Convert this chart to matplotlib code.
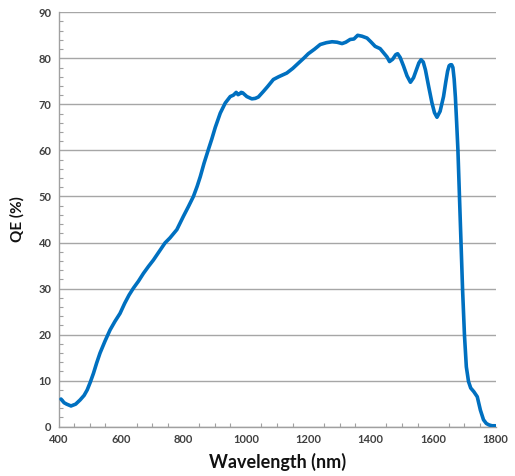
import matplotlib
matplotlib.use("Agg")
import matplotlib.pyplot as plt
from matplotlib.ticker import MultipleLocator
import numpy as np

wavelength = [408, 418, 426, 440, 455, 469, 482, 492, 502, 512, 522, 533, 549, 565, 581, 597, 612, 626, 640, 656, 672, 688, 704, 722, 741, 757, 779, 800, 816, 832, 844, 854, 866, 880, 891, 902, 918, 934, 950, 960, 969, 975, 980, 985, 990, 1003, 1019, 1030, 1040, 1056, 1070, 1088, 1105, 1131, 1150, 1169, 1185, 1200, 1220, 1238, 1258, 1276, 1292, 1308, 1320, 1334, 1346, 1358, 1372, 1388, 1400, 1414, 1430, 1441, 1452, 1460, 1470, 1480, 1486, 1494, 1505, 1516, 1527, 1537, 1546, 1554, 1561, 1568, 1575, 1585, 1596, 1604, 1612, 1622, 1633, 1640, 1646, 1651, 1655, 1659, 1663, 1667, 1671, 1675, 1679, 1684, 1689, 1694, 1700, 1706, 1713, 1720, 1730, 1741, 1751, 1761, 1770, 1778, 1788, 1799]
qe = [6.0, 5.2, 4.9, 4.5, 4.9, 5.8, 6.8, 8.0, 9.7, 11.6, 13.8, 16.0, 18.6, 21.0, 22.9, 24.6, 26.8, 28.6, 30.1, 31.6, 33.3, 34.8, 36.2, 38.0, 39.9, 41.0, 42.8, 45.7, 47.8, 50.0, 52.2, 54.3, 57.2, 60.2, 62.5, 65.0, 68.1, 70.3, 71.7, 72.0, 72.6, 72.1, 72.3, 72.6, 72.5, 71.7, 71.2, 71.3, 71.6, 72.8, 73.9, 75.4, 76.0, 76.8, 77.8, 79.0, 80.0, 81.0, 82.0, 83.0, 83.4, 83.6, 83.5, 83.2, 83.5, 84.1, 84.2, 85.0, 84.8, 84.4, 83.6, 82.6, 82.1, 81.2, 80.3, 79.3, 79.8, 80.8, 81.0, 80.2, 78.3, 76.2, 74.8, 75.8, 77.5, 79.0, 79.7, 79.2, 77.5, 74.0, 70.3, 68.2, 67.2, 68.5, 71.7, 74.8, 77.2, 78.4, 78.6, 78.6, 78.0, 75.5, 71.5, 66.0, 60.2, 50.0, 39.9, 29.7, 19.9, 13.0, 9.8, 8.4, 7.6, 6.5, 3.6, 1.5, 0.7, 0.4, 0.2, 0.2]

x_ticks = [400, 600, 800, 1000, 1200, 1400, 1600, 1800]
y_ticks = [0, 10, 20, 30, 40, 50, 60, 70, 80, 90]

plt.rcParams['font.family'] = ['Lato', 'DejaVu Sans']

fig = plt.figure(figsize=(5.15, 4.76), dpi=100)
ax = fig.add_axes([0.1136, 0.1036, 0.8489, 0.8706])

ax.plot(wavelength, qe, color='#0070C0', lw=2.6, solid_capstyle='round', solid_joinstyle='round', zorder=3)

ax.set_xlim(400, 1800)
ax.set_ylim(0, 90)
ax.set_xticks(x_ticks)
ax.set_yticks(y_ticks)
ax.xaxis.set_minor_locator(MultipleLocator(50))
ax.yaxis.set_minor_locator(MultipleLocator(2))
ax.tick_params(which='major', length=0, pad=5, labelsize=8, labelcolor='#404040')
ax.tick_params(which='minor', direction='in', length=3, color='#a0a0a0', width=0.8)
for lab in ax.get_xticklabels() + ax.get_yticklabels():
    lab.set_fontweight('bold')

ax.grid(axis='y', which='major', color='#a6a6a6', lw=1.0)
ax.set_axisbelow(True)
for s in ['top', 'right']:
    ax.spines[s].set_visible(False)
for s in ['left', 'bottom']:
    ax.spines[s].set_color('#a0a0a0')
    ax.spines[s].set_linewidth(1.0)

ax.set_xlabel('Wavelength (nm)', fontsize=13, fontweight='bold', color='#111111', labelpad=6)
ax.set_ylabel('QE (%)', fontsize=11, fontweight='bold', color='#111111', labelpad=10)

fig.savefig('out.png', dpi=100)
